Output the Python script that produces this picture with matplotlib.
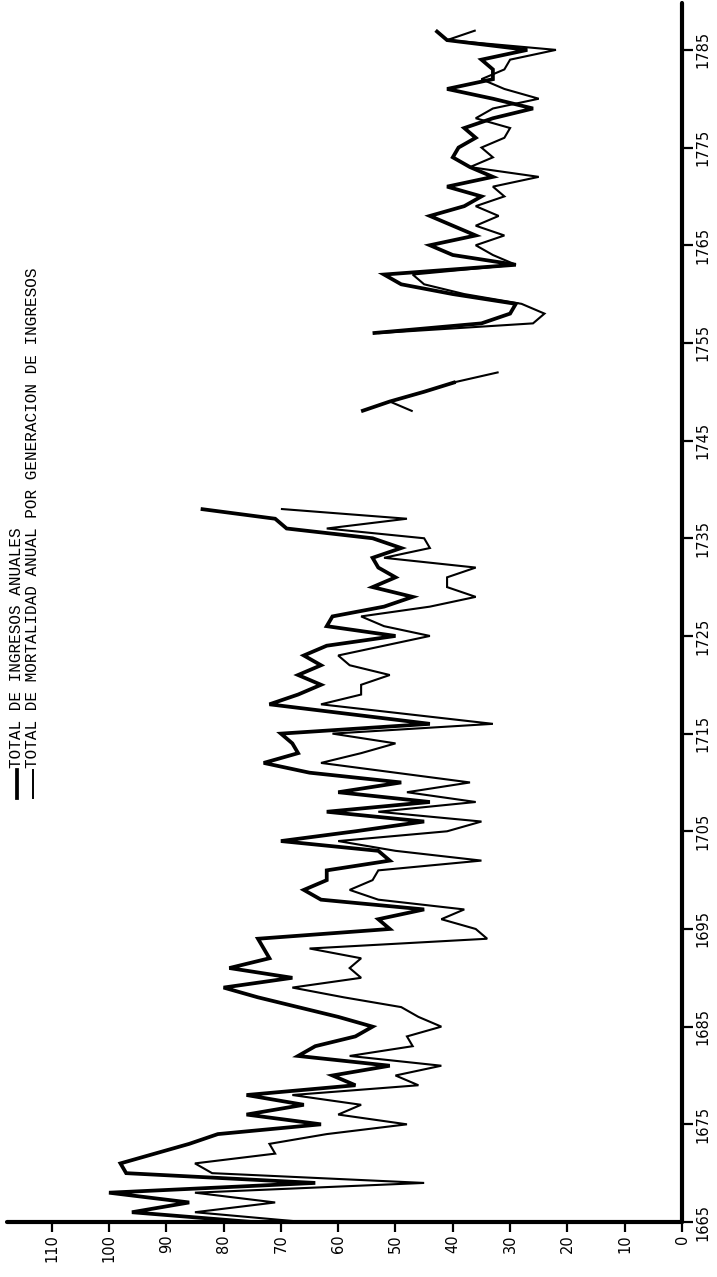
import numpy as np
import matplotlib
matplotlib.use("Agg")
import matplotlib.pyplot as plt
from matplotlib.lines import Line2D

# --- data (values, per year) ---
years_a = np.arange(1665, 1739)
ingresos_a = [75, 96, 86, 100, 64, 97, 98, 92, 86, 81,
              63, 76, 66, 76, 57, 61, 51, 67, 64, 57,
              54, 60, 67, 74, 80, 68, 79, 72, 73, 74,
              51, 53, 45, 63, 66, 62, 62, 51, 53, 70,
              57, 45, 62, 44, 60, 49, 65, 73, 67, 68,
              70, 44, 58, 72, 67, 63, 67, 63, 66, 62,
              50, 62, 61, 52, 47, 54, 50, 53, 54, 49,
              54, 69, 71, 84]
mortal_a = [66, 85, 71, 85, 45, 82, 85, 71, 72, 62,
            48, 60, 56, 68, 46, 50, 42, 58, 47, 48,
            42, 46, 49, 59, 68, 56, 58, 56, 65, 34,
            36, 42, 38, 53, 58, 54, 53, 35, 50, 60,
            41, 35, 53, 36, 48, 37, 50, 63, 56, 50,
            61, 33, 48, 63, 56, 56, 51, 58, 60, 52,
            44, 52, 56, 44, 36, 41, 41, 36, 52, 44,
            45, 62, 48, 70]

years_b_ing = [1748, 1749, 1750, 1751]
ingresos_b = [56, 51, 45, 39.5]
years_b_mor = [1748, 1749, 1750, 1751, 1752]
mortal_b = [47, 51, 45, 39.5, 32]

years_c = np.arange(1756, 1788)
ingresos_c = [54, 35, 30, 29, 40, 49, 52, 29, 40, 44,
              36, 40, 44, 38, 35, 41, 33, 37, 40, 39,
              36, 38, 33, 26, 33, 41, 33, 33, 35, 27,
              41, 43]
mortal_c = [53, 26, 24, 28, 38, 45, 47, 29, 33, 36,
            31, 36, 32, 36, 31, 33, 25, 37, 33, 35,
            31, 30, 36, 33, 25, 31, 35, 31, 30, 22,
            41, 36]

value_ticks = list(range(0, 111, 10))
year_ticks = list(range(1665, 1786, 10))

legend_ing = "TOTAL DE INGRESOS ANUALES"
legend_mor = "TOTAL DE MORTALIDAD ANUAL POR GENERACION DE INGRESOS"

W, H = 717, 1277
fig = plt.figure(figsize=(W / 100, H / 100), dpi=100)
fig.patch.set_facecolor("white")

# chart is turned on its side: years run up, values run to the left
ax = fig.add_axes([7 / W, (H - 1222) / H, 675 / W, 1219 / H])
ax.set_xlim(117.8, 0)
ax.set_ylim(1665, 1789.8)

thick = dict(color="black", lw=2.7, solid_joinstyle="miter", solid_capstyle="butt")
thin = dict(color="black", lw=1.5, solid_joinstyle="miter", solid_capstyle="butt")

ax.plot(mortal_a, years_a, **thin)
ax.plot(ingresos_a, years_a, **thick)
ax.plot(mortal_b, years_b_mor, **thin)
ax.plot(ingresos_b, years_b_ing, **thick)
ax.plot(mortal_c, years_c, **thin)
ax.plot(ingresos_c, years_c, **thick)

for s in ["top", "left"]:
    ax.spines[s].set_visible(False)
for s in ["bottom", "right"]:
    ax.spines[s].set_linewidth(3.0)
    ax.spines[s].set_capstyle("round")

ax.yaxis.tick_right()
ax.set_xticks(value_ticks)
ax.set_xticklabels([str(v) for v in value_ticks], rotation=90,
                   family="DejaVu Sans", fontsize=10.5)
ax.set_yticks(year_ticks)
ax.set_yticklabels([str(y) for y in year_ticks], rotation=90, va="center",
                   family="DejaVu Sans", fontsize=10.5)
ax.tick_params(axis="x", direction="out", length=7, width=1.6, pad=2)
ax.tick_params(axis="y", direction="out", length=8, width=1.6, pad=2)
ax.patch.set_alpha(0)

# legend written sideways in the upper left
for xpix, txt, lw in [(17, legend_ing, 2.7), (33, legend_mor, 1.4)]:
    fig.add_artist(Line2D([xpix / W, xpix / W], [(H - 798) / H, (H - 770) / H],
                          color="black", lw=lw, transform=fig.transFigure))
    fig.text(xpix / W, (H - 768) / H, txt, rotation=90, ha="center", va="bottom",
             family="Liberation Mono", fontsize=11.5)

fig.savefig("out.png", dpi=100, facecolor="white")
